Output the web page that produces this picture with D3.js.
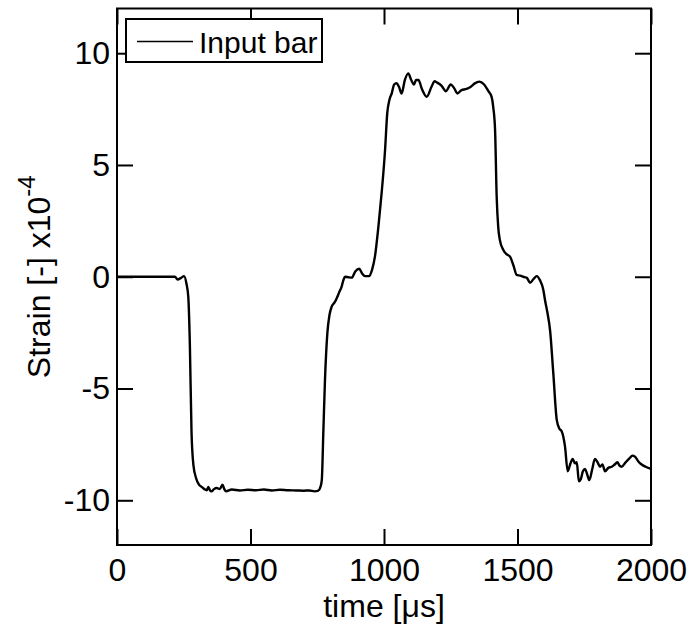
<!DOCTYPE html>
<html>
<head>
<meta charset="utf-8">
<script src="https://cdn.jsdelivr.net/npm/d3@7"></script>
<style>
  html, body { margin: 0; padding: 0; background: #fff; }
  svg { display: block; font-family: "Liberation Sans", Arial, sans-serif; }
</style>
</head>
<body>
<svg id="chart" width="694" height="628"></svg>
<script>
// ===============================
// Dades
// ===============================
const timeUs = [
  0, 100, 200, 217, 227, 240, 251, 260, 267, 273, 279, 286, 296, 307, 317, 327,
  336, 342, 348, 354, 363, 373, 385, 395, 402, 408, 430, 460, 490, 520, 550, 580,
  610, 640, 670, 700, 720, 740, 754, 762, 767, 773, 779, 788, 796, 804, 815, 823,
  832, 841, 848, 854, 866, 879, 893, 907, 918, 929, 945, 955, 966, 979, 991, 1004,
  1012, 1020, 1029, 1038, 1047, 1056, 1066, 1078, 1091, 1102, 1112, 1120, 1129, 1142, 1160, 1178,
  1190, 1197, 1215, 1232, 1250, 1262, 1275, 1290, 1309, 1325, 1340, 1357, 1375, 1391, 1403, 1409,
  1416, 1422, 1428, 1434, 1447, 1460, 1472, 1485, 1497, 1510, 1522, 1535, 1547, 1560, 1572, 1584,
  1597, 1603, 1612, 1622, 1634, 1647, 1657, 1665, 1678, 1688, 1697, 1707, 1715, 1722, 1730, 1737,
  1745, 1753, 1760, 1769, 1780, 1790, 1800, 1809, 1818, 1828, 1840, 1853, 1864, 1874, 1882, 1890,
  1905, 1921, 1930, 1940, 1952, 1965, 1980, 2000
];

const strainInput = [
  0, 0, 0, 0, -0.12, -0.05, 0.03, -0.3, -0.9, -3.1, -6.9, -8.4, -9.0, -9.3, -9.4, -9.5,
  -9.55, -9.4, -9.55, -9.6, -9.5, -9.45, -9.5, -9.3, -9.5, -9.6, -9.52, -9.56, -9.53, -9.55, -9.52, -9.56,
  -9.53, -9.55, -9.56, -9.57, -9.56, -9.6, -9.57, -9.4, -9.1, -6.86, -4.6, -2.5, -1.7, -1.34, -1.15, -0.96,
  -0.7, -0.45, -0.15, 0.0, -0.02, -0.04, 0.25, 0.36, 0.15, 0.03, 0.03, 0.3, 0.9, 2.24, 3.73, 5.67,
  7.3, 7.9, 8.2, 8.6, 8.66, 8.5, 8.2, 8.8, 9.1, 8.8, 8.6, 8.8, 8.8, 8.4, 8.05, 8.5,
  8.75, 8.7, 8.55, 8.3, 8.6, 8.45, 8.2, 8.35, 8.4, 8.5, 8.65, 8.73, 8.6, 8.3, 8.05, 7.6,
  6.57, 3.58, 2.2, 1.64, 1.2, 1.0, 0.9, 0.5, 0.08, 0.05, 0.0, -0.05, -0.27, -0.1, 0.03, -0.15,
  -0.6, -1.04, -1.6, -2.4, -4.3, -6.4, -6.8, -6.9, -7.6, -8.7, -8.4, -8.15, -8.35, -8.3, -9.15, -9.06,
  -8.7, -8.6, -8.8, -9.1, -8.6, -8.15, -8.3, -8.5, -8.4, -8.7, -8.55, -8.5, -8.4, -8.3, -8.45, -8.5,
  -8.3, -8.1, -8.0, -8.05, -8.25, -8.4, -8.5, -8.6
];

const xTicks = [0, 500, 1000, 1500, 2000];
const yTicks = [-10, -5, 0, 5, 10];
const seriesName = "Input bar";

// ===============================
// Escales
// ===============================
const svg = d3.select("#chart");
const margin = { left: 117, right: 43, top: 8.5, bottom: 83 };
const width = 694, height = 628;
const plotW = width - margin.left - margin.right;
const plotH = height - margin.top - margin.bottom;

const x = d3.scaleLinear().domain([0, 2000]).range([margin.left, margin.left + plotW]);
const y = d3.scaleLinear().domain([-12, 12]).range([margin.top + plotH, margin.top]);

const fmt = d => String(d);

svg.append("rect")
  .attr("width", width)
  .attr("height", height)
  .attr("fill", "#fff");

// ===============================
// Eixos (ticks cap a dins, als quatre costats)
// ===============================
const tickLen = 16;

svg.append("g")
  .attr("transform", `translate(0,${y(-12)})`)
  .call(d3.axisBottom(x).tickValues(xTicks).tickFormat(fmt).tickSizeInner(-tickLen).tickSizeOuter(0).tickPadding(13))
  .call(g => g.select(".domain").remove())
  .call(g => g.selectAll("line").attr("stroke", "#000").attr("stroke-width", 2))
  .call(g => g.selectAll("text").style("font-size", "32px").attr("fill", "#000"));

svg.append("g")
  .attr("transform", `translate(0,${y(12)})`)
  .call(d3.axisTop(x).tickValues(xTicks).tickSizeInner(-tickLen).tickSizeOuter(0).tickFormat(""))
  .call(g => g.select(".domain").remove())
  .call(g => g.selectAll("line").attr("stroke", "#000").attr("stroke-width", 2));

svg.append("g")
  .attr("transform", `translate(${x(0)},0)`)
  .call(d3.axisLeft(y).tickValues(yTicks).tickFormat(fmt).tickSizeInner(-tickLen).tickSizeOuter(0).tickPadding(7))
  .call(g => g.select(".domain").remove())
  .call(g => g.selectAll("line").attr("stroke", "#000").attr("stroke-width", 2))
  .call(g => g.selectAll("text").style("font-size", "32px").attr("fill", "#000"));

svg.append("g")
  .attr("transform", `translate(${x(2000)},0)`)
  .call(d3.axisRight(y).tickValues(yTicks).tickSizeInner(-tickLen).tickSizeOuter(0).tickFormat(""))
  .call(g => g.select(".domain").remove())
  .call(g => g.selectAll("line").attr("stroke", "#000").attr("stroke-width", 2));

svg.selectAll("text").attr("font-family", "'Liberation Sans', Arial, sans-serif");

// ===============================
// Sèrie
// ===============================
const points = timeUs.map((t, i) => ({ t, v: strainInput[i] }));

const line = d3.line()
  .x(d => x(d.t))
  .y(d => y(d.v))
  .curve(d3.curveMonotoneX);

svg.append("path")
  .datum(points)
  .attr("d", line)
  .attr("fill", "none")
  .attr("stroke", "#000")
  .attr("stroke-width", 2.4)
  .attr("stroke-linejoin", "round");

// marc del gràfic
svg.append("rect")
  .attr("x", x(0))
  .attr("y", y(12))
  .attr("width", x(2000) - x(0))
  .attr("height", y(-12) - y(12))
  .attr("fill", "none")
  .attr("stroke", "#000")
  .attr("stroke-width", 2);

// ===============================
// Llegenda
// ===============================
const legend = svg.append("g").attr("transform", "translate(126,19)");

legend.append("rect")
  .attr("width", 196)
  .attr("height", 43)
  .attr("fill", "#fff")
  .attr("stroke", "#000")
  .attr("stroke-width", 2);

legend.append("line")
  .attr("x1", 11).attr("x2", 67)
  .attr("y1", 22.5).attr("y2", 22.5)
  .attr("stroke", "#000")
  .attr("stroke-width", 1.5);

legend.append("text")
  .attr("x", 73)
  .attr("y", 34)
  .text(seriesName)
  .style("font-size", "30px");

// ===============================
// Títols d'eixos
// ===============================
svg.append("text")
  .attr("x", (x(0) + x(2000)) / 2)
  .attr("y", 617)
  .attr("text-anchor", "middle")
  .style("font-size", "32px")
  .text("time [μs]");

const yLabel = svg.append("text")
  .attr("transform", `translate(50,${(y(12) + y(-12)) / 2}) rotate(-90)`)
  .attr("text-anchor", "middle")
  .style("font-size", "32px");

yLabel.append("tspan").text("Strain [-] x10");
yLabel.append("tspan")
  .attr("dy", -15)
  .style("font-size", "24px")
  .text("-4");
</script>
</body>
</html>
